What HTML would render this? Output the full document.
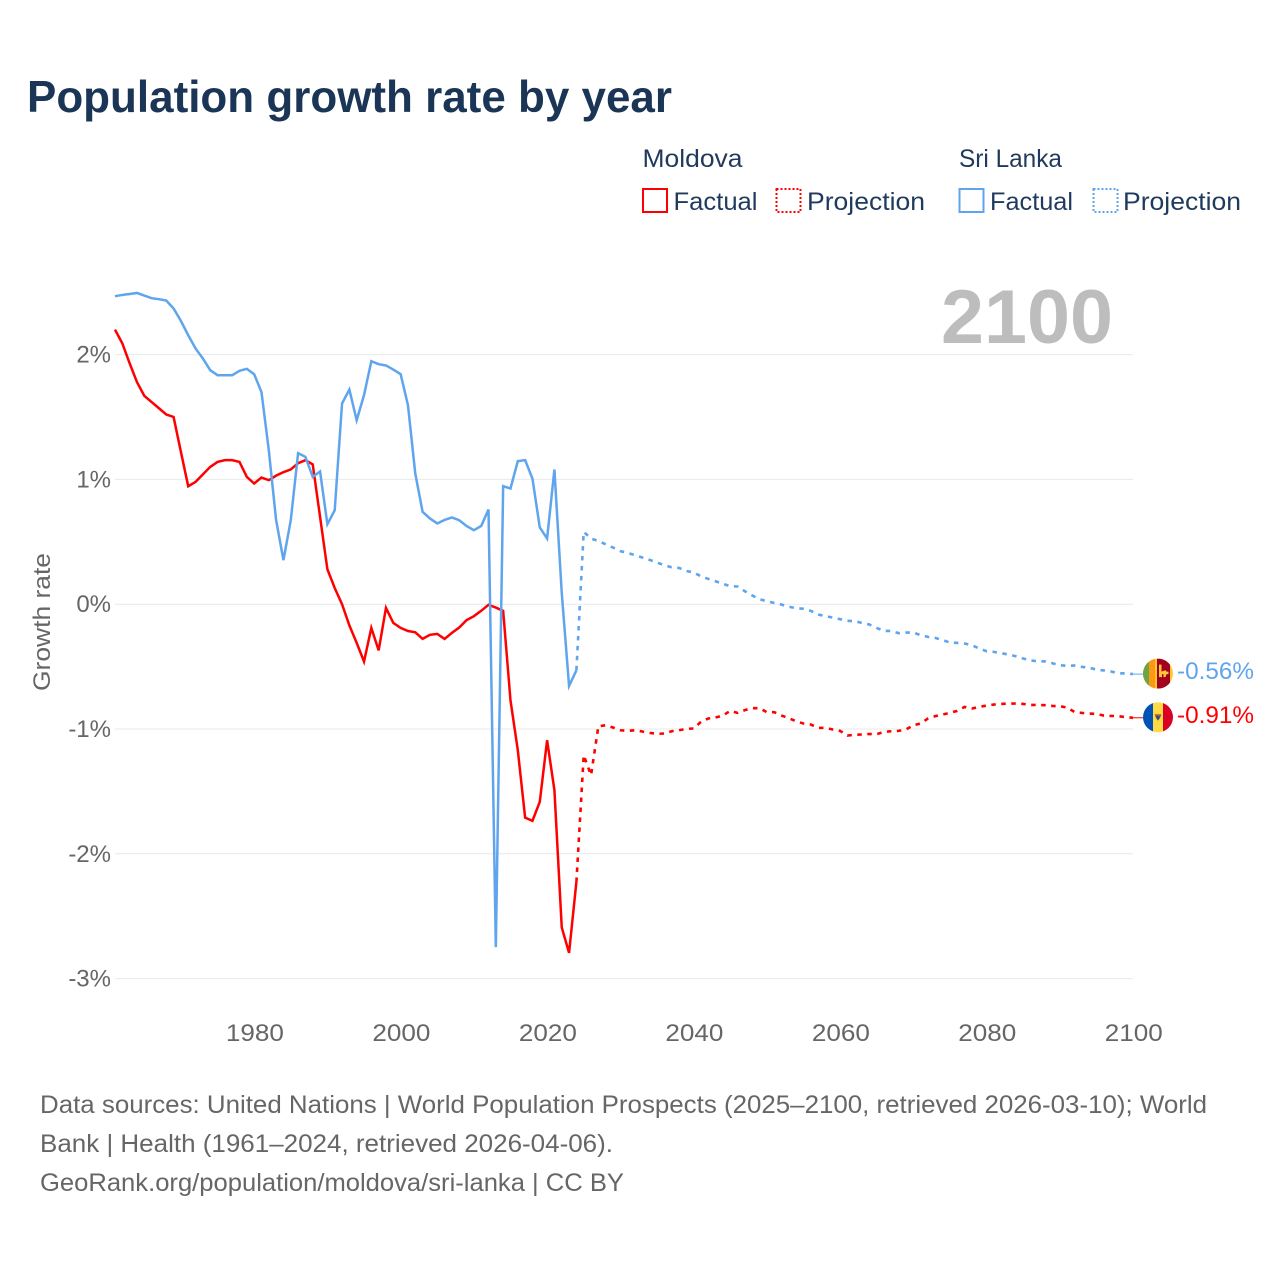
<!DOCTYPE html>
<html lang="en">
<head>
<meta charset="utf-8">
<title>Population growth rate by year</title>
<style>
html,body{margin:0;padding:0;background:#fff;}
svg{display:block;}
text{font-family:"Liberation Sans",sans-serif;}
</style>
</head>
<body>
<svg id="chart" xmlns="http://www.w3.org/2000/svg" width="1280" height="1280" viewBox="0 0 1280 1280">
  <defs>
    <clipPath id="flag-clip-lk"><circle cx="0" cy="0" r="15"/></clipPath>
    <clipPath id="flag-clip-md"><circle cx="0" cy="0" r="15"/></clipPath>
  </defs>
  <rect x="0" y="0" width="1280" height="1280" fill="#fff"/>

  <text x="27" y="112" font-size="44.5" font-weight="700" fill="#1a3555" textLength="645" lengthAdjust="spacingAndGlyphs">Population growth rate by year</text>

  <g font-size="25" fill="#1f3a5c">
    <text x="642.5" y="167" textLength="100" lengthAdjust="spacingAndGlyphs">Moldova</text>
    <text x="959" y="167" textLength="103" lengthAdjust="spacingAndGlyphs">Sri Lanka</text>
    <rect x="643" y="189" width="24" height="23" fill="none" stroke="#ff0000" stroke-width="2"/>
    <text x="673.5" y="210" textLength="84" lengthAdjust="spacingAndGlyphs">Factual</text>
    <rect x="776.5" y="189" width="24" height="23" fill="none" stroke="#ff0000" stroke-width="2" stroke-dasharray="2 2"/>
    <text x="807" y="210" textLength="118" lengthAdjust="spacingAndGlyphs">Projection</text>
    <rect x="959.5" y="189" width="24" height="23" fill="none" stroke="#5fa5ee" stroke-width="2"/>
    <text x="990" y="210" textLength="83" lengthAdjust="spacingAndGlyphs">Factual</text>
    <rect x="1093.5" y="189" width="24" height="23" fill="none" stroke="#5fa5ee" stroke-width="2" stroke-dasharray="2 2"/>
    <text x="1123" y="210" textLength="118" lengthAdjust="spacingAndGlyphs">Projection</text>
  </g>

  <g id="grid"></g>
  <g id="yticks"></g>
  <g id="xticks"></g>

  <text x="0" y="0" transform="translate(50,622) rotate(-90)" text-anchor="middle" font-size="24" fill="#666" textLength="138" lengthAdjust="spacingAndGlyphs">Growth rate</text>

  <text x="941" y="343" font-size="76" font-weight="700" fill="#bdbdbd" textLength="172" lengthAdjust="spacingAndGlyphs">2100</text>

  <g id="series"></g>

  <g id="flag-lk">
    <g clip-path="url(#flag-clip-lk)">
      <rect x="-15" y="-15" width="30" height="30" fill="#ffc73a"/>
      <rect x="-15" y="-15" width="6" height="30" fill="#6da544"/>
      <rect x="-9" y="-15" width="6" height="30" fill="#ff9811"/>
      <rect x="-1" y="-15" width="13" height="30" fill="#a2001d"/>
      <path d="M1 -9h2.500v7l4-1.500 1 1.500 2 0v2.500h-2l-1 3h-2v-3h-1.500v3h-3z" fill="#ffc73a"/>
    </g>
  </g>
  <g id="flag-md">
    <g clip-path="url(#flag-clip-md)">
      <rect x="-15" y="-15" width="10.500" height="30" fill="#0052b4"/>
      <rect x="-5" y="-15" width="10" height="30" fill="#ffda44"/>
      <rect x="5" y="-15" width="10" height="30" fill="#d80027"/>
      <path d="M-3.500 -3h7l-1.500 4-2 2.500-2-2.500z" fill="#a5602b"/>
      <path d="M-2 -1h4l-2 4z" fill="#0052b4"/>
    </g>
  </g>
  <g id="end-labels"></g>

  <g font-size="25" fill="#666">
    <text x="40" y="1113" textLength="1167" lengthAdjust="spacingAndGlyphs">Data sources: United Nations | World Population Prospects (2025–2100, retrieved 2026-03-10); World</text>
    <text x="40" y="1152" textLength="573" lengthAdjust="spacingAndGlyphs">Bank | Health (1961–2024, retrieved 2026-04-06).</text>
    <text x="40" y="1191" textLength="584" lengthAdjust="spacingAndGlyphs">GeoRank.org/population/moldova/sri-lanka | CC BY</text>
  </g>
</svg>
<script>
var firstYear = 1961;
var projectionFirstYear = 2025;
var yTickValues = [2, 1, 0, -1, -2, -3];
var yTickLabels = ["2%", "1%", "0%", "-1%", "-2%", "-3%"];
var xTickValues = [1980, 2000, 2020, 2040, 2060, 2080, 2100];
var xTickLabels = ["1980", "2000", "2020", "2040", "2060", "2080", "2100"];

var moldovaFactual = [2.20,2.09,1.93,1.78,1.67,1.62,1.57,1.52,1.50,1.22,0.945,0.98,1.04,1.10,1.14,1.154,1.154,1.14,1.02,0.967,1.015,0.994,1.03,1.058,1.08,1.13,1.154,1.12,0.70,0.28,0.13,0.0,-0.17,-0.31,-0.46,-0.19,-0.37,-0.03,-0.15,-0.19,-0.215,-0.225,-0.278,-0.245,-0.238,-0.278,-0.23,-0.187,-0.128,-0.096,-0.053,-0.005,-0.027,-0.053,-0.77,-1.17,-1.71,-1.736,-1.584,-1.09,-1.49,-2.59,-2.794,-2.225];

var moldovaProjection = [-1.21,-1.37,-0.978,-0.97,-0.988,-1.01,-1.015,-1.01,-1.02,-1.031,-1.039,-1.036,-1.018,-1.01,-0.999,-0.996,-0.943,-0.916,-0.908,-0.892,-0.855,-0.871,-0.849,-0.833,-0.833,-0.865,-0.865,-0.892,-0.913,-0.938,-0.956,-0.964,-0.991,-0.991,-1.004,-1.015,-1.052,-1.047,-1.044,-1.04,-1.042,-1.023,-1.018,-1.015,-1.004,-0.97,-0.956,-0.916,-0.897,-0.884,-0.871,-0.855,-0.823,-0.836,-0.823,-0.812,-0.804,-0.799,-0.796,-0.796,-0.799,-0.807,-0.807,-0.809,-0.815,-0.817,-0.828,-0.863,-0.871,-0.876,-0.879,-0.892,-0.895,-0.897,-0.905,-0.91];

var sriLankaFactual = [2.468,2.478,2.486,2.494,2.473,2.452,2.444,2.433,2.369,2.27,2.155,2.049,1.969,1.875,1.835,1.835,1.835,1.87,1.886,1.843,1.70,1.234,0.673,0.353,0.673,1.21,1.18,1.02,1.063,0.641,0.753,1.608,1.72,1.474,1.675,1.947,1.923,1.913,1.88,1.843,1.595,1.047,0.74,0.687,0.647,0.675,0.695,0.673,0.627,0.593,0.627,0.759,-2.748,0.946,0.927,1.146,1.154,1.007,0.615,0.526,1.079,0.09,-0.655,-0.53];

var sriLankaProjection = [0.58,0.526,0.507,0.48,0.454,0.425,0.411,0.393,0.374,0.355,0.334,0.312,0.296,0.291,0.267,0.254,0.224,0.203,0.184,0.163,0.144,0.142,0.104,0.07,0.04,0.024,0.01,-0.003,-0.02,-0.032,-0.037,-0.053,-0.083,-0.096,-0.107,-0.12,-0.133,-0.136,-0.15,-0.163,-0.19,-0.214,-0.214,-0.232,-0.227,-0.227,-0.248,-0.262,-0.27,-0.288,-0.307,-0.31,-0.315,-0.329,-0.355,-0.377,-0.382,-0.393,-0.403,-0.417,-0.435,-0.451,-0.457,-0.459,-0.473,-0.489,-0.494,-0.491,-0.502,-0.51,-0.523,-0.531,-0.539,-0.553,-0.555,-0.56];

var endLabelMoldova = "-0.91%";
var endLabelSriLanka = "-0.56%";

var NS = "http://www.w3.org/2000/svg";
var RED = "#ff0000";
var BLUE = "#5fa5ee";

function xScale(year) { return 115 + (year - 1961) * (1133 - 115) / 139; }
function yScale(v) { return 604.2 - v * 124.8; }

function pathFrom(values, startYear, lead) {
  var d = "";
  if (lead !== null) {
    d = "M" + xScale(startYear - 1).toFixed(2) + " " + yScale(lead).toFixed(2);
  }
  values.forEach(function (v, i) {
    var cmd = (d === "") ? "M" : "L";
    d += cmd + xScale(startYear + i).toFixed(2) + " " + yScale(v).toFixed(2);
  });
  return d;
}

var gridG = document.getElementById("grid");
var yG = document.getElementById("yticks");
var xG = document.getElementById("xticks");
var seriesG = document.getElementById("series");
var endG = document.getElementById("end-labels");

yTickValues.forEach(function (v, i) {
  var line = document.createElementNS(NS, "line");
  line.setAttribute("x1", 115);
  line.setAttribute("x2", 1133);
  line.setAttribute("y1", yScale(v));
  line.setAttribute("y2", yScale(v));
  line.setAttribute("stroke", "#e9e9e9");
  line.setAttribute("stroke-width", 1);
  
  
  gridG.appendChild(line);

  var t = document.createElementNS(NS, "text");
  t.setAttribute("x", 111);
  t.setAttribute("y", yScale(v) + 8);
  t.setAttribute("text-anchor", "end");
  t.setAttribute("font-size", 24);
  t.setAttribute("fill", "#666");
  
  
  t.textContent = yTickLabels[i];
  yG.appendChild(t);
});

xTickValues.forEach(function (yr, i) {
  var t = document.createElementNS(NS, "text");
  t.setAttribute("x", xScale(yr) + 0.8);
  t.setAttribute("y", 1041);
  t.setAttribute("text-anchor", "middle");
  t.setAttribute("font-size", 24);
  t.setAttribute("fill", "#666");
  t.setAttribute("textLength", 58);
  t.setAttribute("lengthAdjust", "spacingAndGlyphs");
  
  
  t.textContent = xTickLabels[i];
  xG.appendChild(t);
});

function addLine(d, color, dashed, name) {
  var p = document.createElementNS(NS, "path");
  p.setAttribute("d", d);
  p.setAttribute("fill", "none");
  p.setAttribute("stroke", color);
  p.setAttribute("stroke-width", dashed ? 2.6 : 2.5);
  p.setAttribute("stroke-linejoin", "miter");
  if (dashed) { p.setAttribute("stroke-dasharray", "4.5 5.5"); }
  
  
  seriesG.appendChild(p);
}

addLine(pathFrom(moldovaFactual, firstYear, null), RED, false, "moldova-factual-line");
addLine(pathFrom(sriLankaFactual, firstYear, null), BLUE, false, "sri-lanka-factual-line");
addLine(pathFrom(moldovaProjection, projectionFirstYear, moldovaFactual[moldovaFactual.length - 1]), RED, true, "moldova-projection-line");
addLine(pathFrom(sriLankaProjection, projectionFirstYear, sriLankaFactual[sriLankaFactual.length - 1]), BLUE, true, "sri-lanka-projection-line");

function addEnd(value, color, label, flagId, labelName, connectorName) {
  var cy = yScale(value);
  document.getElementById(flagId).setAttribute("transform", "translate(1158," + (cy - 0.5) + ")");
  var c = document.createElementNS(NS, "line");
  c.setAttribute("x1", 1133);
  c.setAttribute("x2", 1143);
  c.setAttribute("y1", cy);
  c.setAttribute("y2", cy);
  c.setAttribute("stroke", color);
  c.setAttribute("stroke-width", 1);
  
  
  endG.appendChild(c);
  var t = document.createElementNS(NS, "text");
  t.setAttribute("x", 1177);
  t.setAttribute("y", cy + 5);
  t.setAttribute("font-size", 24);
  t.setAttribute("fill", color);
  t.setAttribute("textLength", 77);
  t.setAttribute("lengthAdjust", "spacingAndGlyphs");
  
  
  t.textContent = label;
  endG.appendChild(t);
}

addEnd(sriLankaProjection[sriLankaProjection.length - 1], BLUE, endLabelSriLanka, "flag-lk", "sri-lanka-end-value", "sri-lanka-connector");
addEnd(moldovaProjection[moldovaProjection.length - 1], RED, endLabelMoldova, "flag-md", "moldova-end-value", "moldova-connector");
</script>
</body>
</html>
